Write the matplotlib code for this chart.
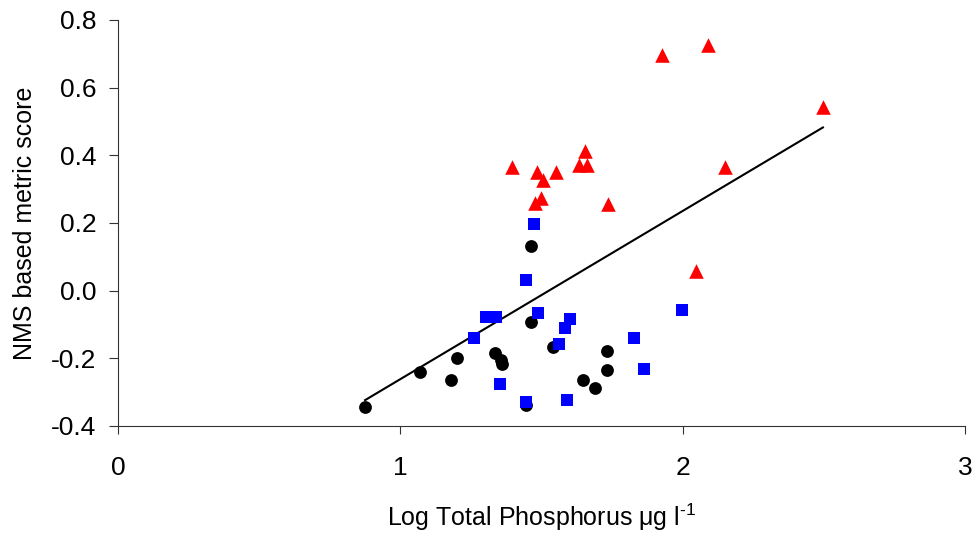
import numpy as np
import matplotlib
matplotlib.use('Agg')
import matplotlib.pyplot as plt

plt.rcParams['font.family'] = ['Liberation Sans', 'DejaVu Sans']
plt.rcParams['axes.unicode_minus'] = False
plt.rcParams['mathtext.fontset'] = 'custom'
plt.rcParams['mathtext.rm'] = 'Liberation Sans'
plt.rcParams['mathtext.default'] = 'regular'

# black circles
circ_x = [0.875, 1.07, 1.18, 1.202, 1.335, 1.357, 1.359, 1.461, 1.461, 1.446,
          1.540, 1.646, 1.690, 1.733, 1.733]
circ_y = [-0.345, -0.240, -0.265, -0.198, -0.184, -0.204, -0.218, 0.132, -0.094, -0.338,
          -0.167, -0.265, -0.289, -0.179, -0.235]

# blue squares
sq_x = [1.472, 1.443, 1.302, 1.338, 1.488, 1.599, 1.583, 1.259, 1.561, 1.354,
        1.443, 1.591, 1.827, 1.864, 1.997]
sq_y = [0.197, 0.031, -0.078, -0.078, -0.066, -0.085, -0.110, -0.140, -0.159, -0.275,
        -0.329, -0.325, -0.140, -0.231, -0.059]

# red triangles
tri_x = [1.395, 1.483, 1.504, 1.550, 1.632, 1.654, 1.662, 1.498, 1.477, 1.735,
         1.926, 2.089, 2.496, 2.148, 2.045]
tri_y = [0.365, 0.351, 0.326, 0.351, 0.371, 0.412, 0.371, 0.272, 0.260, 0.255,
         0.696, 0.727, 0.542, 0.366, 0.059]

# trend line end points
trend_x = [0.875, 2.496]
trend_y = [-0.324, 0.482]

fig = plt.figure(figsize=(9.75, 5.37), dpi=100)
ax = fig.add_axes([0.121, 0.207, 0.869, 0.756])

ax.plot(trend_x, trend_y, color='black', lw=1.5, zorder=2)
ax.scatter(circ_x, circ_y, s=85, marker='o', color='black', zorder=3, linewidths=0)
ax.scatter(sq_x, sq_y, s=80, marker='s', color='#0000ff', zorder=3, linewidths=0)
ax.scatter(tri_x, tri_y, s=110, marker='^', color='#ff0000', zorder=3, linewidths=0)

ax.set_xlim(0, 3)
ax.set_ylim(-0.4, 0.8)
ax.set_xticks([0, 1, 2, 3])
ax.set_yticks(np.arange(-0.4, 0.81, 0.2))
ax.set_yticklabels(['%.1f' % v for v in np.arange(-0.4, 0.81, 0.2)])

for s in ['top', 'right']:
    ax.spines[s].set_visible(False)
for s in ['left', 'bottom']:
    ax.spines[s].set_linewidth(0.8)
    ax.spines[s].set_color('#333333')

ax.tick_params(axis='x', direction='out', length=6, width=0.8, pad=16, labelsize=19, color='#333333')
ax.tick_params(axis='y', direction='out', length=6.5, width=0.8, pad=9, labelsize=19, color='#333333')

ax.set_xlabel('Log Total Phosphorus μg l$^{\\text{-1}}$', fontsize=18, labelpad=15)
ax.set_ylabel('NMS based metric score', fontsize=18, labelpad=10)

fig.savefig('out.png', dpi=100)
